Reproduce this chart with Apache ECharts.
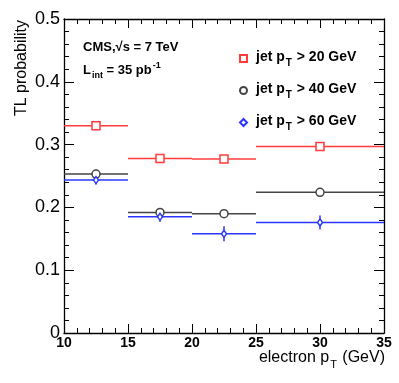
<!DOCTYPE html>
<html>
<head>
<meta charset="utf-8">
<script src="https://cdn.jsdelivr.net/npm/echarts@6/dist/echarts.min.js"></script>
<style>html,body{margin:0;padding:0;background:#fff}#c{width:399px;height:383px}</style>
</head>
<body>
<div id="c"></div>
<script>
// bins (electron pT, GeV)
var binLow  = [10, 15, 20, 25];
var binHigh = [15, 20, 25, 35];
// TL probability for each jet pT threshold
var pt20 = [0.330, 0.278, 0.277, 0.297];
var pt20err = [0.003, 0.003, 0.003, 0.003];
var pt40 = [0.253, 0.192, 0.190, 0.224];
var pt40err = [0.004, 0.004, 0.004, 0.004];
var pt60 = [0.2435, 0.185, 0.158, 0.176];
var pt60err = [0.007, 0.008, 0.012, 0.011];
var seriesNames = ['jet pT > 20 GeV', 'jet pT > 40 GeV', 'jet pT > 60 GeV'];
var xTicks = [10, 15, 20, 25, 30, 35];
var yTicks = [0, 0.1, 0.2, 0.3, 0.4, 0.5];

var colors = ['#ff3b3b', '#444444', '#2a36ff'];
var symbols = ['rect', 'circle', 'diamond'];
var symSizes = [[8, 8], [8, 8], [5, 7]];
var vals = [pt20, pt40, pt60];
var errs = [pt20err, pt40err, pt60err];

function binRows(v, e) {
  return binLow.map(function (lo, i) { return [lo, binHigh[i], v[i], e[i]]; });
}
function pointRows(v) {
  return binLow.map(function (lo, i) { return [(lo + binHigh[i]) / 2, v[i]]; });
}

var series = [];
vals.forEach(function (v, k) {
  var col = colors[k];
  series.push({
    type: 'custom',
    name: seriesNames[k] + '_bars',
    xAxisIndex: 0, yAxisIndex: 0,
    silent: true,
    z: 2,
    encode: { x: [0, 1], y: 2 },
    data: binRows(v, errs[k]),
    renderItem: function (params, api) {
      var lo = api.value(0), hi = api.value(1), y = api.value(2), e = api.value(3);
      var xc = (lo + hi) / 2;
      var a = api.coord([lo, y]), b = api.coord([hi, y]);
      var t = api.coord([xc, y + e]), d = api.coord([xc, y - e]);
      return {
        type: 'group',
        children: [
          { type: 'line', shape: { x1: a[0], y1: a[1], x2: b[0], y2: b[1] }, style: { stroke: col, lineWidth: 1.5 } },
          { type: 'line', shape: { x1: t[0], y1: t[1], x2: d[0], y2: d[1] }, style: { stroke: col, lineWidth: 1.5 } }
        ]
      };
    }
  });
  series.push({
    type: 'scatter',
    name: seriesNames[k],
    xAxisIndex: 0, yAxisIndex: 0,
    z: 3,
    symbol: symbols[k],
    symbolSize: symSizes[k],
    itemStyle: { color: '#ffffff', borderColor: col, borderWidth: 1.5, opacity: 1 },
    data: pointRows(v)
  });
});

var fontF = '"Liberation Sans", Arial, Helvetica, sans-serif';

function mkX(pos, showLabel) {
  return {
    type: 'value', position: pos, min: 10, max: 35, interval: 5,
    axisLine: { show: true, onZero: false, lineStyle: { color: '#000', width: 1.3 } },
    axisTick: { show: true, inside: true, length: 9, lineStyle: { color: '#000', width: 1 } },
    minorTick: { show: true, splitNumber: 5, length: 5, lineStyle: { color: '#000', width: 1 } },
    splitLine: { show: false },
    axisLabel: { show: showLabel, color: '#000', fontSize: 14, fontWeight: 'bold', fontFamily: fontF, margin: 3 }
  };
}
function mkY(pos, showLabel) {
  return {
    type: 'value', position: pos, min: 0, max: 0.5, interval: 0.1,
    axisLine: { show: true, onZero: false, lineStyle: { color: '#000', width: 1.3 } },
    axisTick: { show: true, inside: true, length: 10, lineStyle: { color: '#000', width: 1 } },
    minorTick: { show: true, splitNumber: 5, length: 5, lineStyle: { color: '#000', width: 1 } },
    splitLine: { show: false },
    axisLabel: { show: showLabel, color: '#000', fontSize: 18, fontFamily: fontF, margin: 4,
      formatter: function (v) { return String(Math.round(v * 10) / 10); } }
  };
}

var chart = echarts.init(document.getElementById('c'), null, { renderer: 'canvas' });
chart.setOption({
  animation: false,
  backgroundColor: '#ffffff',
  grid: { left: 64, right: 15, top: 19, bottom: 50, containLabel: false },
  xAxis: [mkX('bottom', true), mkX('top', false)],
  yAxis: [mkY('left', true), mkY('right', false)],
  legend: {
    data: seriesNames.map(function (n, k) { return { name: n, icon: symbols[k] }; }),
    orient: 'vertical',
    left: 234, top: 45,
    itemWidth: 7, itemHeight: 7,
    itemGap: 14,
    selectedMode: false,
    formatter: function (name) {
      var parts = name.split('pT');
      return '{b|' + parts[0] + 'p}{s|T}{b|' + parts[1] + '}';
    },
    textStyle: {
      padding: [0, 0, 0, 4],
      rich: {
        b: { fontSize: 14, fontWeight: 'bold', fontFamily: fontF, color: '#000', verticalAlign: 'top', padding: [0, 0, 0, 0], lineHeight: 17 },
        s: { fontSize: 10, fontWeight: 'bold', fontFamily: fontF, color: '#000', verticalAlign: 'top', padding: [8, 1, 0, 1], lineHeight: 17 }
      }
    }
  },
  graphic: [
    {
      type: 'text', x: 22, y: 20, rotation: Math.PI / 2,
      style: { text: 'TL probability', font: '16px ' + fontF, fill: '#000', align: 'right', verticalAlign: 'middle' }
    },
    {
      type: 'text', x: 385, y: 350,
      style: {
        text: '{n|electron p}{s|T}{n| (GeV)}', align: 'right', verticalAlign: 'top',
        rich: {
          n: { fontSize: 16, fontFamily: fontF, fill: '#000', verticalAlign: 'top', lineHeight: 18 },
          s: { fontSize: 11, fontFamily: fontF, fill: '#000', verticalAlign: 'top', padding: [9, 1, 0, 1], lineHeight: 18 }
        }
      }
    },
    {
      type: 'text', x: 83, y: 41,
      style: { text: 'CMS,\u221As = 7 TeV', font: 'bold 13px ' + fontF, fill: '#000', align: 'left', verticalAlign: 'top' }
    },
    {
      type: 'text', x: 83, y: 61,
      style: {
        text: '{m|L}{s|int}{m| = 35 pb}{p|-1}', align: 'left', verticalAlign: 'top',
        rich: {
          m: { fontSize: 13, fontWeight: 'bold', fontFamily: fontF, fill: '#000', verticalAlign: 'top', padding: [3, 0, 0, 0], lineHeight: 20 },
          s: { fontSize: 9, fontWeight: 'bold', fontFamily: fontF, fill: '#000', verticalAlign: 'top', padding: [10, 0, 0, 1], lineHeight: 20 },
          p: { fontSize: 9, fontWeight: 'bold', fontFamily: fontF, fill: '#000', verticalAlign: 'top', padding: [0, 0, 0, 1], lineHeight: 20 }
        }
      }
    }
  ],
  series: series
});
</script>
</body>
</html>
